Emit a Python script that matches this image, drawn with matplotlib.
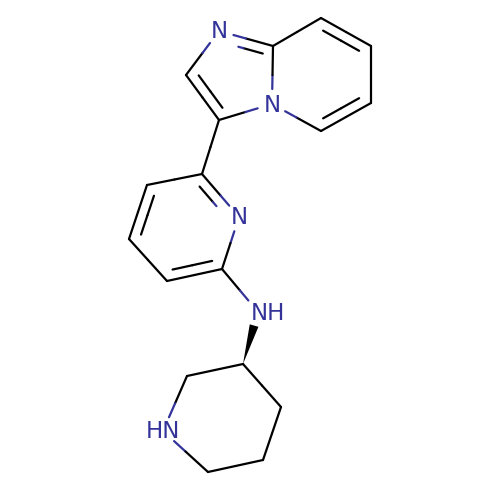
import numpy as np
import matplotlib
matplotlib.use('Agg')
import matplotlib.pyplot as plt
from matplotlib.patches import Polygon

BLUE = '#33339a'

# atom positions, in pixels
atom_x = [219, 186, 219, 272, 273, 321, 371, 371, 321, 202, 147, 129, 167, 222, 239, 258, 243, 187, 163, 208, 263, 281]
atom_y = [31, 75, 120, 104, 46, 18, 46, 103, 131, 174, 185, 239, 281, 269, 217, 312, 364, 376, 431, 472, 460, 407]
atom_text = ['N', '', '', 'N', '', '', '', '', '', '', '', '', '', '', 'N', 'NH', '', '', 'HN', '', '', '']

single_bonds = [(1, 0), (2, 3), (3, 4), (4, 5), (6, 7), (8, 3), (2, 9), (9, 10), (11, 12), (14, 13),
                (13, 15), (16, 17), (17, 18), (18, 19), (19, 20), (20, 21), (21, 16)]
# a, b, atoms of the ring that the second line leans to
double_bonds = [(1, 2, [0, 1, 2, 3, 4]), (4, 0, [0, 1, 2, 3, 4]),
                (5, 6, [3, 4, 5, 6, 7, 8]), (7, 8, [3, 4, 5, 6, 7, 8]),
                (9, 14, [9, 10, 11, 12, 13, 14]), (10, 11, [9, 10, 11, 12, 13, 14]),
                (12, 13, [9, 10, 11, 12, 13, 14])]
wedge_bond = (16, 15)


def half_bond(ax, p, q, has_label_p, has_label_q):
    # each half takes the colour of its own atom, labels get a gap
    mid = (p + q) / 2
    unit = (q - p) / np.linalg.norm(q - p)
    start = p + unit * 15 if has_label_p else p
    end = q - unit * 15 if has_label_q else q
    ax.plot([start[0], mid[0]], [start[1], mid[1]], color=BLUE if has_label_p else 'black',
            lw=1.6, solid_capstyle='round')
    ax.plot([mid[0], end[0]], [mid[1], end[1]], color=BLUE if has_label_q else 'black',
            lw=1.6, solid_capstyle='round')


fig = plt.figure(figsize=(5, 5), dpi=100)
ax = fig.add_axes([0, 0, 1, 1])
ax.set_xlim(0, 500)
ax.set_ylim(500, 0)
ax.axis('off')

xy = np.column_stack((atom_x, atom_y)).astype(float)

for a, b in single_bonds:
    half_bond(ax, xy[a], xy[b], atom_text[a] != '', atom_text[b] != '')

for a, b, ring in double_bonds:
    half_bond(ax, xy[a], xy[b], atom_text[a] != '', atom_text[b] != '')
    centre = xy[ring].mean(axis=0)
    unit = (xy[b] - xy[a]) / np.linalg.norm(xy[b] - xy[a])
    normal = np.array([-unit[1], unit[0]])
    if np.dot(centre - xy[a], normal) < 0:
        normal = -normal
    length = np.linalg.norm(xy[b] - xy[a])
    p = xy[a] + normal * 10 + unit * length * 0.14
    q = xy[b] + normal * 10 - unit * length * 0.14
    half_bond(ax, p, q, atom_text[a] != '', atom_text[b] != '')

# stereo bond, narrow at the ring atom
base = xy[wedge_bond[0]]
tip = xy[wedge_bond[1]]
unit = (tip - base) / np.linalg.norm(tip - base)
normal = np.array([-unit[1], unit[0]])
end = base + unit * 40
ax.add_patch(Polygon([base, end + normal * 4.5, end - normal * 4.5], closed=True, color='black', lw=0))

for x, y, label in zip(atom_x, atom_y, atom_text):
    if label == '':
        continue
    lx = x + 10 if label == 'NH' else x
    ax.text(lx, y - 1.5, label, color=BLUE, fontsize=16.5, ha='center', va='center_baseline')

fig.savefig('out.png', dpi=100)
